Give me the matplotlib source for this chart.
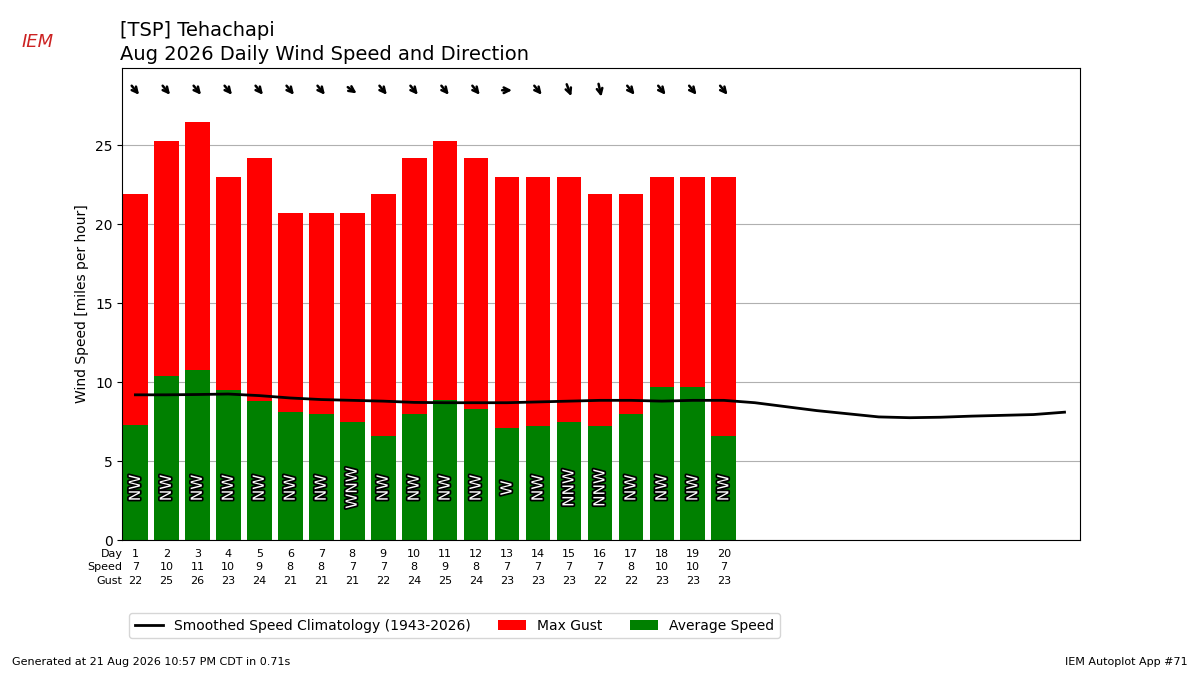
import matplotlib
matplotlib.use("Agg")
import matplotlib.pyplot as plt
import matplotlib.patheffects as pe
import numpy as np

days = list(range(1, 21))
avg_speed = [7.3,10.4,10.8,9.5,8.8,8.1,8.0,7.5,6.6,8.0,8.9,8.3,7.1,7.2,7.5,7.2,8.0,9.7,9.7,6.6]
max_gust = [21.9,25.3,26.5,23.0,24.2,20.7,20.7,20.7,21.9,24.2,25.3,24.2,23.0,23.0,23.0,21.9,21.9,23.0,23.0,23.0]
speed_lbl = [7,10,11,10,9,8,8,7,7,8,9,8,7,7,7,7,8,10,10,7]
gust_lbl = [22,25,26,23,24,21,21,21,22,24,25,24,23,23,23,22,22,23,23,23]
dirs = ["NW","NW","NW","NW","NW","NW","NW","WNW","NW","NW","NW","NW","W","NW","NNW","NNW","NW","NW","NW","NW"]
dir_deg = [315,315,315,315,315,315,315,300,315,315,315,315,270,315,335,345,315,315,315,315]
clim_days = list(range(1, 32))
clim = [9.2,9.2,9.22,9.25,9.15,9.0,8.9,8.85,8.8,8.72,8.7,8.7,8.7,8.75,8.8,8.85,8.85,8.8,8.85,8.85,8.7,8.45,8.2,8.0,7.8,7.75,7.78,7.85,7.9,7.95,8.1]

fig = plt.figure(figsize=(12, 6.75), dpi=100)
ax = fig.add_axes([0.102, 0.2, 0.798, 0.699])
ax.bar(days, max_gust, color="red", label="Max Gust", zorder=2)
ax.bar(days, avg_speed, color="green", label="Average Speed", zorder=2)
ax.plot(clim_days, clim, color="black", lw=2, label="Smoothed Speed Climatology (1943-2026)", zorder=3)
ax.set_xlim(0.58, 31.5)
ax.set_ylim(0, 29.9)
ax.yaxis.grid(True, zorder=0)
ax.set_axisbelow(True)
ax.set_xticks([])
ax.set_ylabel("Wind Speed [miles per hour]")
for d, t, deg in zip(days, dirs, dir_deg):
    ax.text(d, 3.3, t, rotation=90, ha="center", va="center", fontsize=11, color="white",
            path_effects=[pe.withStroke(linewidth=2.5, foreground="black")], zorder=4)
    rad = np.deg2rad(deg)
    u, v = -np.sin(rad), -np.cos(rad)
    ax.annotate("", xy=(d + 0.25*u, 28.5 + 0.6*v*1.0), xytext=(d - 0.25*u, 28.5 - 0.6*v*1.0),
                arrowprops=dict(arrowstyle="->", lw=1.8, color="black"), zorder=5)
tr = ax.get_xaxis_transform()
for i, lab in enumerate(["Day", "Speed", "Gust"]):
    y = -0.03 - i*0.028
    ax.text(0.58, y, lab, transform=tr, ha="right", va="center", fontsize=8)
    vals = [days, speed_lbl, gust_lbl][i]
    for d, v in zip(days, vals):
        ax.text(d, y, str(v), transform=tr, ha="center", va="center", fontsize=8)
ax.legend(loc="upper left", bbox_to_anchor=(0.0, -0.14), ncol=3, fontsize=10)
fig.text(0.1, 0.955, "[TSP] Tehachapi", fontsize=14, va="center")
fig.text(0.1, 0.92, "Aug 2026 Daily Wind Speed and Direction", fontsize=14, va="center")
fig.text(0.01, 0.015, "Generated at 21 Aug 2026 10:57 PM CDT in 0.71s", fontsize=8)
fig.text(0.99, 0.015, "IEM Autoplot App #71", fontsize=8, ha="right")
fig.text(0.018, 0.93, "IEM", fontsize=13, color="#cc2222", style="italic")
fig.savefig("out.png")
